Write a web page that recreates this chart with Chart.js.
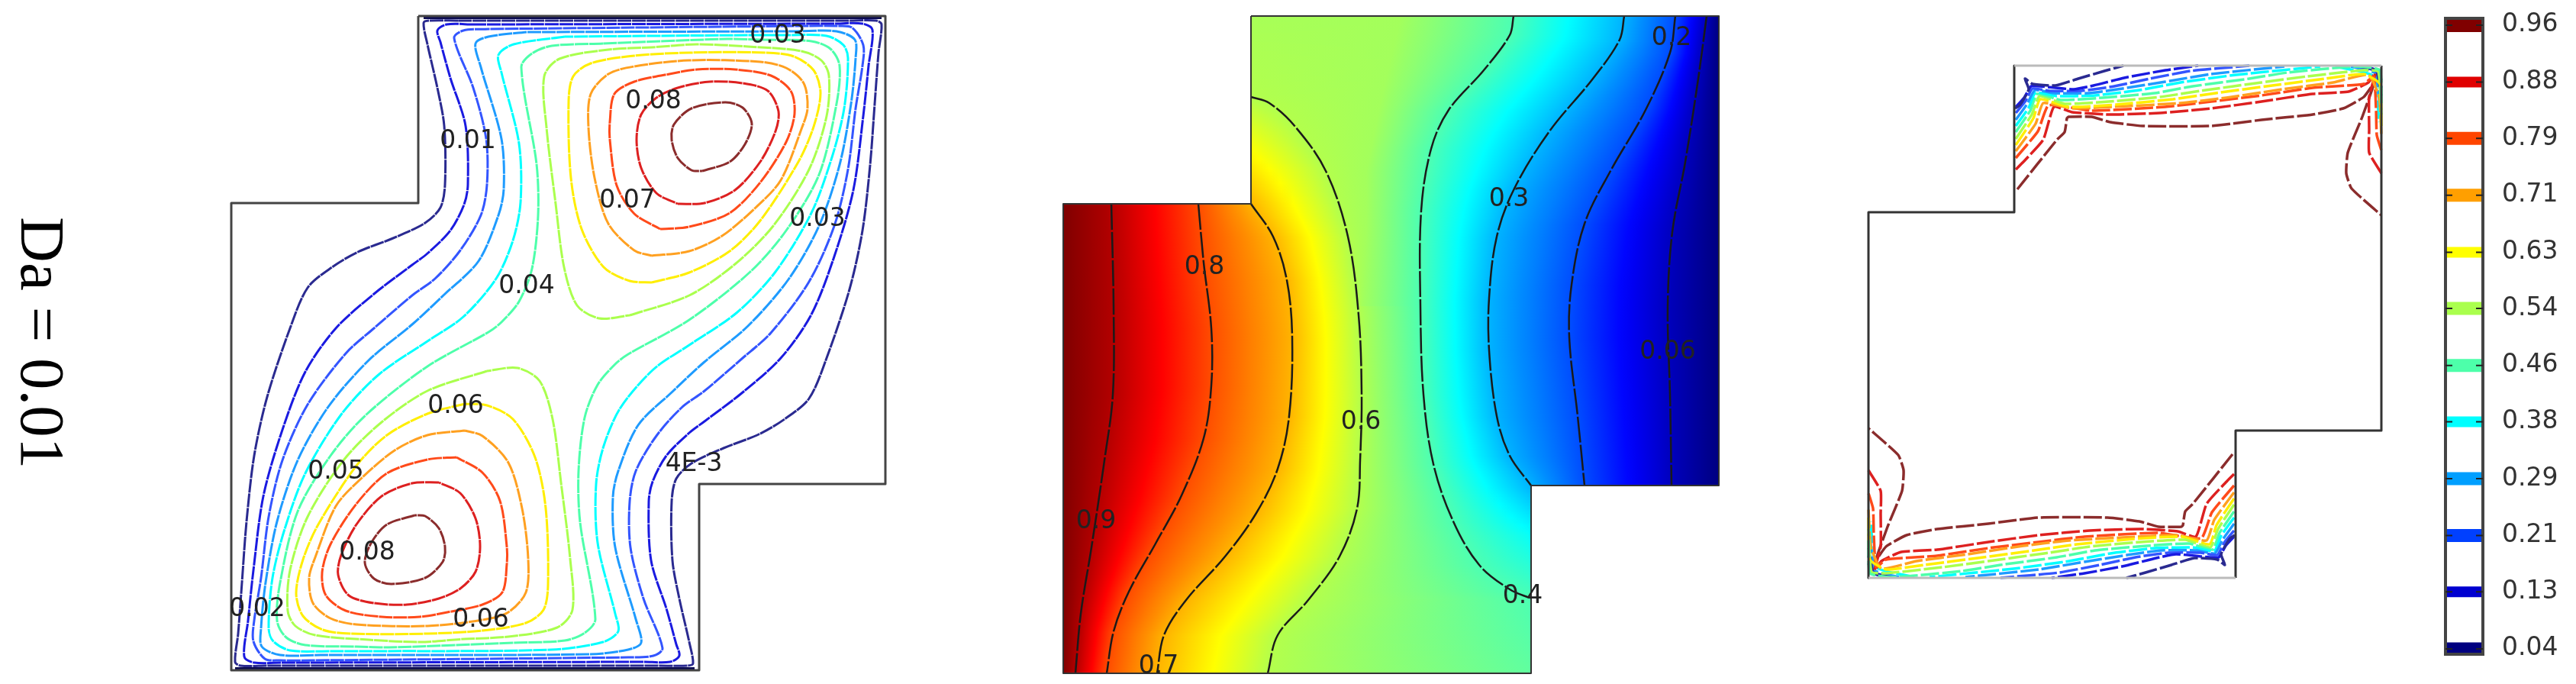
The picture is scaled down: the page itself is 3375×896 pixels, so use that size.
<!DOCTYPE html>
<html>
<head>
<meta charset="utf-8">
<title>Da = 0.01</title>
<script src="https://cdn.jsdelivr.net/npm/chart.js@4"></script>
<style>
html, body { margin: 0; padding: 0; background: #fff; }
body { position: relative; width: 3375px; height: 896px; overflow: hidden; }
canvas { position: absolute; top: 0; filter: blur(0.7px); }
#fields { left: 0; }
#legend { left: 3100px; }
#da {
    position: absolute; left: 97px; top: 284px; white-space: nowrap;
    font: 83px/1 "Liberation Serif", serif; color: #000;
    transform-origin: 0 0; transform: rotate(90deg);
}
</style>
</head>
<body>
<div id="da">Da = 0.01</div>
<canvas id="fields" width="3375" height="896"></canvas>
<canvas id="legend" width="275" height="896"></canvas>
<script>
/* colorbar */
var legendLabels = ['0.96', '0.88', '0.79', '0.71', '0.63', '0.54', '0.46', '0.38', '0.29', '0.21', '0.13', '0.04'];
var legendValues = [0.96, 0.876, 0.793, 0.709, 0.625, 0.542, 0.458, 0.375, 0.291, 0.207, 0.124, 0.04];
var legendColors = ['#800000', '#e00000', '#ff4500', '#ff9f00', '#ffff00', '#aaff4d', '#4dffaa', '#00ffff', '#009fff', '#0040ff', '#0000d0', '#000080'];
var legendBands = [18, 14, 17, 17, 14, 17, 17, 14, 17, 17, 14, 17];
var lineColors = ['#8b2c2c', '#dd2020', '#ff4a1a', '#ffa020', '#ffee00', '#aaff4d', '#4dffaa', '#00ffff', '#1e9bff', '#3355ff', '#1a1ae0', '#2a2a90'];

/* outlines */
var outlineStream = [548,21, 1160,21, 1160,634, 916,634, 916,878, 303,878, 303,266, 548,266, 548,21];
var edgeStreamTop = [555,23, 1155,23];
var edgeStreamBottom = [308,876, 910,876];
var outlineTemp = [1639,21, 2252,21, 2252,636, 2006,636, 2006,882, 1393,882, 1393,267, 1639,267, 1639,21];
var outlineNuA = [2639,86, 2639,278, 2448,278, 2448,757];
var outlineNuB = [2929,757, 2929,564, 3120,564, 3120,86];
var edgeNuA = [2639,86, 3120,86];
var edgeNuB = [2448,757, 2929,757];

/* streamlines: index into the colorbar, then the closed curves */
var streamLevels = [11, 10, 9, 8, 7, 6, 5, 5, 4, 4, 3, 3, 2, 2, 1, 1, 0, 0];
var streamNavy = [600,27, 562,27, 555,30, 560,58, 573,115, 582,165, 583,242, 577,272, 557,292, 515,312, 469,330, 435,350, 403,377, 380,430, 350,520, 333,597, 323,683, 317,763, 312,830, 308,867, 315,872, 350,872, 863,872, 901,872, 908,869, 903,841, 890,784, 881,734, 880,657, 886,627, 906,607, 948,587, 994,569, 1028,549, 1060,522, 1083,469, 1113,379, 1130,302, 1140,216, 1146,136, 1151,69, 1155,32, 1148,27, 1113,27];
var streamBlue = [620,32, 585,32, 573,40, 577,55, 590,102, 610,165, 613,242, 608,268, 590,302, 560,332, 540,347, 490,385, 440,430, 400,487, 370,563, 345,650, 332,747, 325,813, 320,860, 333,868, 370,868, 843,867, 878,867, 890,859, 886,844, 873,797, 853,734, 850,657, 855,631, 873,597, 903,567, 923,552, 973,514, 1023,469, 1063,412, 1093,336, 1118,249, 1131,152, 1138,86, 1143,39, 1130,31, 1093,31];
var streamMid = [640,38, 607,40, 595,50, 620,115, 637,182, 638,242, 630,282, 603,328, 570,365, 540,387, 490,430, 453,463, 403,530, 370,603, 352,677, 342,757, 333,813, 332,840, 347,863, 367,865, 410,865, 823,861, 856,859, 868,849, 843,784, 826,717, 825,657, 833,617, 860,571, 893,534, 923,512, 973,469, 1010,436, 1060,369, 1093,296, 1111,222, 1121,142, 1130,86, 1131,59, 1116,36, 1096,34, 1053,34];
var streamSky = [690,42, 640,48, 623,57, 630,88, 657,182, 660,248, 653,282, 627,342, 583,385, 540,425, 483,472, 430,533, 390,603, 363,683, 348,763, 342,823, 343,847, 367,858, 420,858, 773,857, 823,851, 840,842, 833,811, 806,717, 803,651, 810,617, 836,557, 880,514, 923,474, 980,427, 1033,366, 1073,296, 1100,216, 1115,136, 1121,76, 1120,52, 1096,41, 1043,41];
var streamCyan = [740,48, 673,58, 653,72, 657,95, 680,188, 682,265, 672,315, 650,365, 607,415, 560,447, 497,490, 447,543, 400,620, 373,693, 357,757, 352,823, 358,840, 380,852, 433,853, 480,853, 723,851, 790,841, 810,827, 806,804, 783,711, 781,634, 791,584, 813,534, 856,484, 903,452, 966,409, 1016,356, 1063,279, 1090,206, 1106,142, 1111,76, 1105,59, 1083,47, 1030,46, 983,46];
var streamMint = [790,57, 723,60, 697,70, 683,88, 703,215, 705,282, 697,352, 680,395, 657,422, 640,435, 560,480, 480,543, 433,597, 390,670, 367,763, 363,813, 375,835, 400,845, 467,847, 510,848, 673,842, 740,839, 766,829, 780,811, 760,684, 758,617, 766,547, 783,504, 806,477, 823,464, 903,419, 983,356, 1030,302, 1073,229, 1096,136, 1100,86, 1088,64, 1063,54, 996,52, 953,51];
var greenUp = [825,413, 903,387, 963,346, 1013,296, 1060,222, 1083,152, 1086,99, 1076,79, 1050,67, 980,61, 913,58, 854,62, 797,65, 733,77, 713,100, 716,167, 728,267, 739,350, 756,400, 785,417];
var greenLow = [638,486, 560,512, 500,553, 450,603, 403,677, 380,747, 377,800, 387,820, 413,832, 483,838, 550,841, 609,837, 666,834, 730,822, 750,799, 747,732, 735,632, 724,549, 707,499, 678,482];
var yellowUp = [854,370, 903,357, 956,329, 996,289, 1046,212, 1066,166, 1075,122, 1066,92, 1040,74, 1003,69, 903,69, 831,73, 774,83, 751,100, 745,133, 748,233, 762,300, 791,350, 825,368];
var yellowLow = [609,529, 560,542, 507,570, 467,610, 417,687, 397,733, 388,777, 397,807, 423,825, 460,830, 560,830, 632,826, 689,816, 712,799, 718,766, 715,666, 701,599, 672,549, 638,531];
var orangeUp = [854,335, 903,329, 946,309, 990,272, 1023,236, 1050,169, 1058,142, 1053,109, 1030,89, 996,81, 903,79, 831,87, 797,97, 774,123, 771,167, 779,233, 797,293, 831,328];
var orangeLow = [609,564, 560,570, 517,590, 473,627, 440,663, 413,730, 405,757, 410,790, 433,810, 467,818, 560,820, 632,812, 666,802, 689,776, 692,732, 684,666, 666,606, 632,571];
var scarletUp = [865,300, 903,297, 956,279, 996,239, 1030,186, 1041,149, 1036,119, 1010,99, 963,91, 913,91, 877,97, 831,107, 805,123, 799,160, 799,183, 808,243, 831,280];
var scarletLow = [598,599, 560,602, 507,620, 467,660, 433,713, 422,750, 427,780, 453,800, 500,808, 550,808, 586,802, 632,792, 658,776, 664,739, 664,716, 655,656, 632,619];
var redUp = [888,267, 923,266, 963,249, 996,212, 1016,172, 1020,146, 1006,119, 973,109, 930,107, 888,115, 860,128, 840,150, 834,183, 840,220, 860,253];
var redLow = [575,632, 540,633, 500,650, 467,687, 447,727, 443,753, 457,780, 490,790, 533,792, 575,784, 603,771, 623,749, 629,716, 623,679, 603,646];
var brownUp = [920,224, 956,212, 976,189, 985,162, 973,141, 950,134, 906,142, 883,163, 880,183, 888,207, 906,223];
var brownLow = [543,675, 507,687, 487,710, 478,737, 490,758, 513,765, 557,757, 580,736, 583,716, 575,692, 557,676];
var streamCurves = [streamNavy, streamBlue, streamMid, streamSky, streamCyan, streamMint, greenUp, greenLow, yellowUp, yellowLow, orangeUp, orangeLow, scarletUp, scarletLow, redUp, redLow, brownUp, brownLow];

/* isotherms */
var tempLevels = [0.95, 0.8, 0.7, 0.55, 0.45, 0.3, 0.2, 0.06];
var tempLines = [
    [1456,267, 1459,402, 1458,517, 1447,603, 1430,717, 1416,804, 1409,882],
    [1570,267, 1577,344, 1587,430, 1587,505, 1577,574, 1548,649, 1514,712, 1479,775, 1459,827, 1450,882],
    [1639,267, 1668,310, 1686,367, 1693,442, 1689,545, 1674,614, 1646,672, 1605,729, 1554,786, 1525,832, 1516,882],
    [1639,127, 1663,135, 1697,166, 1737,224, 1766,310, 1780,413, 1784,517, 1782,603, 1778,666, 1755,729, 1714,786, 1674,832, 1661,882],
    [1983,21, 1978,46, 1944,92, 1898,144, 1875,195, 1862,276, 1861,402, 1865,517, 1878,608, 1904,683, 1938,740, 1978,772, 2006,784],
    [2128,21, 2122,52, 2087,103, 2030,172, 1984,247, 1961,310, 1951,390, 1951,459, 1961,545, 1978,597, 2006,636],
    [2195,21, 2188,69, 2156,144, 2110,224, 2076,293, 2059,373, 2056,442, 2067,545, 2076,636],
    [2236,21, 2225,103, 2208,212, 2191,304, 2185,402, 2188,517, 2190,636]
];
/* extent of the flat yellow-green zone in the upper block, coloured but not contoured */
var tempPlateauLevel = 0.535;
var tempPlateau = [1835,21, 1810,127, 1790,224, 1790,300, 1785,400];
/* y, value along the walls that are not at a fixed value */
var tempWallUpper = [21,0.54, 127,0.55, 267,0.7];
var tempWallLower = [636,0.3, 700,0.38, 784,0.45, 882,0.47];

/* local Nusselt contours */
var nuLevels = [11, 11, 10, 10, 9, 9, 8, 8, 7, 7, 6, 6, 5, 5, 4, 4, 3, 3, 2, 2, 1, 1, 0, 0, 11, 11, 10, 10, 9, 9, 8, 8, 7, 7];
var nuLines = [
    [2640,142, 2647,137, 2658,117, 2653,103, 2663,110, 2693,112, 2723,103, 2757,93, 2782,86],
    [2928,701, 2921,706, 2910,726, 2915,740, 2905,733, 2875,731, 2845,740, 2811,750, 2786,757],
    [2641,140, 2652,128, 2661,113, 2673,113, 2717,117, 2743,112, 2783,102, 2837,92, 2880,86],
    [2927,703, 2916,715, 2907,730, 2895,730, 2851,726, 2825,731, 2785,741, 2731,751, 2688,757],
    [2641,148, 2654,132, 2663,116, 2685,119, 2727,119, 2770,113, 2817,103, 2870,93, 2947,86],
    [2927,695, 2914,711, 2905,727, 2883,724, 2841,724, 2798,730, 2751,740, 2698,750, 2621,757],
    [2641,157, 2656,136, 2666,118, 2690,122, 2737,122, 2787,115, 2837,107, 2897,97, 2993,87],
    [2927,686, 2912,707, 2902,725, 2878,721, 2831,721, 2781,728, 2731,736, 2671,746, 2575,756],
    [2641,165, 2658,141, 2667,121, 2695,126, 2745,125, 2803,118, 2857,108, 2930,98, 3040,87],
    [2927,678, 2910,702, 2901,722, 2873,717, 2823,718, 2765,725, 2711,735, 2638,745, 2528,756],
    [2641,173, 2660,145, 2669,123, 2700,131, 2755,128, 2823,122, 2873,113, 2947,103, 2997,95, 3087,87, 3118,92, 3120,135],
    [2927,670, 2908,698, 2899,720, 2868,712, 2813,715, 2745,721, 2695,730, 2621,740, 2571,748, 2481,756, 2450,751, 2448,708],
    [2641,182, 2662,150, 2672,126, 2705,136, 2763,133, 2830,127, 2890,118, 2963,108, 3023,100, 3097,92, 3116,94, 3120,150],
    [2927,661, 2906,693, 2896,717, 2863,707, 2805,710, 2738,716, 2678,725, 2605,735, 2545,743, 2471,751, 2452,749, 2448,693],
    [2641,190, 2664,155, 2673,130, 2710,140, 2773,137, 2847,130, 2903,122, 2977,112, 3047,103, 3097,97, 3118,110, 3120,165],
    [2927,653, 2904,688, 2895,713, 2858,703, 2795,706, 2721,713, 2665,721, 2591,731, 2521,740, 2471,746, 2450,733, 2448,678],
    [2641,198, 2667,162, 2677,135, 2715,142, 2787,139, 2857,135, 2917,128, 2990,117, 3057,108, 3103,98, 3117,127, 3120,177],
    [2927,645, 2901,681, 2891,708, 2853,701, 2781,704, 2711,708, 2651,715, 2578,726, 2511,735, 2465,745, 2451,716, 2448,666],
    [2641,207, 2670,172, 2684,138, 2740,145, 2837,140, 2897,133, 2963,125, 3030,115, 3097,110, 3110,100, 3113,143, 3114,177, 3120,197],
    [2927,636, 2898,671, 2884,705, 2828,698, 2731,703, 2671,710, 2605,718, 2538,728, 2471,733, 2458,743, 2455,700, 2454,666, 2448,646],
    [2641,222, 2650,213, 2677,183, 2691,140, 2715,147, 2763,150, 2830,148, 2897,142, 2963,133, 3030,123, 3077,120, 3103,108, 3112,96, 3104,127, 3104,170, 3104,200, 3120,227],
    [2927,621, 2918,630, 2891,660, 2877,703, 2853,696, 2805,693, 2738,695, 2671,701, 2605,710, 2538,720, 2491,723, 2465,735, 2456,747, 2464,716, 2464,673, 2464,643, 2448,616],
    [2643,248, 2695,183, 2705,173, 2708,155, 2710,153, 2740,153, 2765,160, 2807,165, 2897,165, 2963,157, 3030,150, 3070,142, 3097,127, 3110,110, 3095,153, 3076,200, 3074,227, 3081,247, 3120,282],
    [2925,595, 2873,660, 2863,670, 2860,688, 2858,690, 2828,690, 2803,683, 2761,678, 2671,678, 2605,686, 2538,693, 2498,701, 2471,716, 2458,733, 2473,690, 2492,643, 2494,616, 2487,596, 2448,561],
    [3090,87, 3113,92, 3120,125],
    [2478,756, 2455,751, 2448,718],
    [3095,87, 3114,94, 3120,115],
    [2473,756, 2454,749, 2448,728],
    [3100,87, 3116,93, 3120,105],
    [2468,756, 2452,750, 2448,738],
    [3080,87, 3112,96, 3118,140],
    [2488,756, 2456,747, 2450,703],
    [3060,87, 3110,100, 3117,160],
    [2508,756, 2458,743, 2451,683]
];

/* contour labels: text, x, y */
var contourLabels = [
    ['0.03', 1019, 47], ['0.01', 613, 185], ['0.08', 856, 133], ['0.07', 822, 263], ['0.03', 1071, 287], ['0.04', 690, 375],
    ['0.06', 597, 532], ['0.05', 440, 618], ['4E-3', 909, 608], ['0.08', 481, 724], ['0.02', 337, 798], ['0.06', 630, 812],
    ['0.2', 2190, 50], ['0.3', 1977, 261], ['0.8', 1578, 350], ['0.06', 2185, 461], ['0.6', 1783, 553], ['0.9', 1436, 683], ['0.4', 1995, 781], ['0.7', 1518, 873]
];

function toPoints(flat) {
    var pts = [];
    for (var i = 0; i < flat.length; i += 2) pts.push({x: flat[i], y: flat[i + 1]});
    return pts;
}

function lineSet(flat, color, width, tension, dash) {
    return {
        data: toPoints(flat), showLine: true, pointRadius: 0, fill: false,
        borderColor: color, borderWidth: width, tension: tension,
        borderDash: dash || [], borderJoinStyle: 'round', clip: false
    };
}

function jet(t) {
    var stops = [[0, 0, 0, 128], [0.125, 0, 0, 255], [0.375, 0, 255, 255], [0.625, 255, 255, 0], [0.875, 255, 0, 0], [1, 128, 0, 0]];
    for (var i = 1; i < stops.length; i++) {
        if (t <= stops[i][0]) {
            var f = (t - stops[i - 1][0]) / (stops[i][0] - stops[i - 1][0]);
            var c = [1, 2, 3].map(function (k) { return Math.round(stops[i - 1][k] + f * (stops[i][k] - stops[i - 1][k])); });
            return 'rgb(' + c.join(',') + ')';
        }
    }
    return 'rgb(128,0,0)';
}

// position of a polyline (flat array, y rising) at height y, or null outside of it
function crossing(flat, y) {
    for (var i = 0; i + 3 < flat.length; i += 2) {
        if (y >= flat[i + 1] && y <= flat[i + 3]) {
            return flat[i] + (y - flat[i + 1]) / (flat[i + 3] - flat[i + 1]) * (flat[i + 2] - flat[i]);
        }
    }
    return null;
}

function wallValue(flat, y) {
    for (var i = 0; i + 3 < flat.length; i += 2) {
        if (y <= flat[i + 2]) return flat[i + 1] + (y - flat[i]) / (flat[i + 2] - flat[i]) * (flat[i + 3] - flat[i + 1]);
    }
    return flat[flat.length - 1];
}

// temperature colours, one gradient per row, from the isotherms
var fieldPlugin = {
    id: 'field',
    beforeDatasetsDraw: function (chart) {
        var c = chart.ctx, sx = chart.scales.x, sy = chart.scales.y;
        c.save();
        for (var y = 21; y < 882; y += 2) {
            var row = [];
            if (y < 267) row.push([1639, wallValue(tempWallUpper, y)]);
            else row.push([1393, 1]);
            tempLines.forEach(function (line, i) {
                var x = crossing(line, y);
                if (x !== null) row.push([x, tempLevels[i]]);
            });
            var px = crossing(tempPlateau, y);
            if (px !== null) row.push([px, tempPlateauLevel]);
            if (y < 636) row.push([2252, 0]);
            else row.push([2006, wallValue(tempWallLower, y)]);
            row.sort(function (a, b) { return a[0] - b[0]; });

            var x0 = sx.getPixelForValue(row[0][0]), x1 = sx.getPixelForValue(row[row.length - 1][0]);
            var grad = c.createLinearGradient(x0, 0, x1, 0);
            for (var i = 0; i + 1 < row.length; i++) {
                for (var k = 0; k < 8; k++) {
                    var f = k / 8;
                    var pos = (row[i][0] + f * (row[i + 1][0] - row[i][0]) - row[0][0]) / (row[row.length - 1][0] - row[0][0]);
                    grad.addColorStop(Math.min(1, Math.max(0, pos)), jet(row[i][1] + f * (row[i + 1][1] - row[i][1])));
                }
            }
            grad.addColorStop(1, jet(row[row.length - 1][1]));
            c.fillStyle = grad;
            c.fillRect(x0, sy.getPixelForValue(y), x1 - x0, 2);
        }
        c.restore();
    },
    afterDatasetsDraw: function (chart) {
        var c = chart.ctx;
        c.save();
        c.font = '33px "DejaVu Sans"';
        c.fillStyle = '#222';
        c.textAlign = 'center';
        c.textBaseline = 'middle';
        contourLabels.forEach(function (l) {
            c.fillText(l[0], chart.scales.x.getPixelForValue(l[1]), chart.scales.y.getPixelForValue(l[2]));
        });
        c.restore();
    }
};

var sets = [];
sets.push(lineSet(outlineStream, '#444', 3, 0));
sets.push(lineSet(outlineTemp, '#333', 2, 0));
sets.push(lineSet(edgeNuA, '#bbb', 3, 0));
sets.push(lineSet(edgeNuB, '#bbb', 3, 0));
sets.push(lineSet(outlineNuA, '#333', 3, 0));
sets.push(lineSet(outlineNuB, '#333', 3, 0));
streamCurves.forEach(function (curve, i) {
    sets.push(lineSet(curve.concat(curve.slice(0, 2)), lineColors[streamLevels[i]], 3, 0.3, [18, 1]));
});
sets.push(lineSet(edgeStreamTop, '#0a0a50', 4, 0));
sets.push(lineSet(edgeStreamBottom, '#0a0a50', 4, 0));
tempLines.forEach(function (line) {
    sets.push(lineSet(line, '#1a1a1a', 2.5, 0.35, [34, 3]));
});
nuLines.forEach(function (line, i) {
    sets.push(lineSet(line, lineColors[nuLevels[i]], 3.5, 0.15, [24, 4]));
});

new Chart(document.getElementById('fields'), {
    type: 'scatter',
    data: {datasets: sets},
    options: {
        responsive: false,
        animation: false,
        layout: {padding: 0},
        plugins: {legend: {display: false}, tooltip: {enabled: false}},
        scales: {
            x: {type: 'linear', display: false, min: 0, max: 3375},
            y: {type: 'linear', display: false, min: 0, max: 896, reverse: true}
        }
    },
    plugins: [fieldPlugin]
});

var framePlugin = {
    id: 'frame',
    afterDatasetsDraw: function (chart) {
        var c = chart.ctx, a = chart.chartArea, sy = chart.scales.y;
        c.save();
        c.strokeStyle = '#444';
        c.lineWidth = 4;
        c.strokeRect(a.left, a.top, a.right - a.left, a.bottom - a.top);
        c.strokeStyle = '#222';
        c.lineWidth = 2;
        legendValues.forEach(function (v) {
            var y = sy.getPixelForValue(v);
            c.beginPath();
            c.moveTo(a.left, y); c.lineTo(a.left + 9, y);
            c.moveTo(a.right - 9, y); c.lineTo(a.right, y);
            c.stroke();
        });
        c.restore();
    }
};

new Chart(document.getElementById('legend'), {
    type: 'scatter',
    data: {
        datasets: legendValues.map(function (v, i) {
            return {
                data: [{x: 0, y: v}, {x: 1, y: v}], showLine: true, pointRadius: 0,
                borderColor: legendColors[i], borderWidth: legendBands[i]
            };
        })
    },
    options: {
        responsive: false,
        animation: false,
        layout: {padding: {left: 104, top: 24, bottom: 39, right: 0}},
        plugins: {legend: {display: false}, tooltip: {enabled: false}},
        scales: {
            x: {type: 'linear', display: false, min: 0, max: 1},
            y: {
                type: 'linear', position: 'right', min: 0.032, max: 0.97, bounds: 'data',
                border: {display: false},
                grid: {display: false, drawTicks: false},
                afterBuildTicks: function (axis) {
                    axis.ticks = legendValues.map(function (v) { return {value: v}; });
                },
                afterFit: function (axis) {
                    axis.width = 122;
                    axis.paddingTop = 0;
                    axis.paddingBottom = 0;
                },
                ticks: {
                    autoSkip: false, padding: 25, color: '#333',
                    font: {family: 'DejaVu Sans', size: 33},
                    callback: function (value, index) { return legendLabels[index]; }
                }
            }
        }
    },
    plugins: [framePlugin]
});
</script>
</body>
</html>
